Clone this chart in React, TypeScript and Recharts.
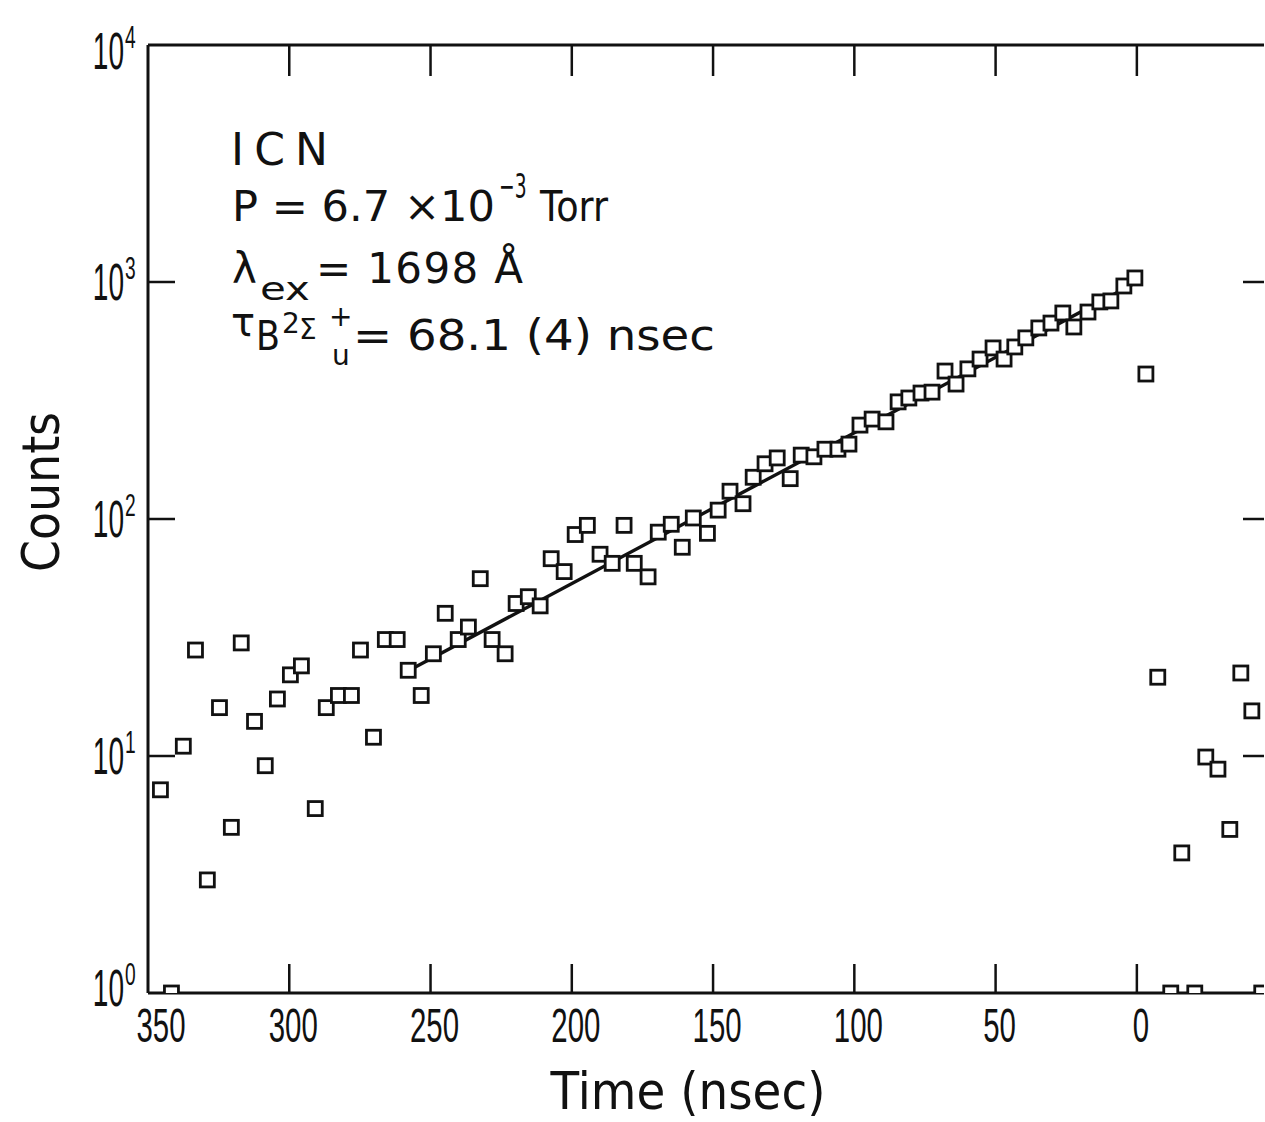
import React from "react";
import { ComposedChart, Scatter, XAxis, YAxis } from "recharts";

// decay curve (time in nsec, counts)
const times = [
  345.6, 341.7, 337.5, 333.2, 329, 324.7, 320.5, 317, 312.3, 308.5, 304.2, 299.6, 295.7,
  290.8, 286.9, 282.6, 278, 274.8, 270.2, 266, 261.8, 257.9, 253.3, 249, 244.8, 240.2,
  236.6, 232.4, 228.2, 223.6, 219.7, 215.4, 211.2, 207.3, 202.7, 198.8, 194.5, 190, 185.7,
  181.5, 177.9, 173, 169.4, 164.8, 160.9, 157, 152, 148.2, 144, 139.4, 135.8, 131.6, 127.3,
  122.7, 118.8, 114.3, 110.4, 105.8, 101.9, 98, 93.7, 88.8, 84.5, 80.7, 76.4, 72.5, 67.9,
  64, 59.8, 55.5, 50.9, 47, 43.2, 39.3, 34.7, 30.4, 26.2, 22.3, 17.3, 13.1, 9.2, 4.6, 0.7,
  -3.2, -7.4, -12, -15.9, -20.5, -24.4, -28.7, -32.9, -36.8, -40.7, -44.2,
];
const counts = [
  7.2, 1, 11, 28, 3, 16, 5, 30, 14, 9.1, 17.4, 22, 24,
  6, 16, 18, 18, 28, 12, 31, 31, 23, 18, 27, 40, 31,
  35, 56, 31, 27, 44, 47, 43, 68, 60, 86, 94, 71, 65,
  94, 65, 57, 88, 95, 76, 101, 87, 109, 131, 116, 150, 171, 181,
  148, 186, 183, 197, 197, 207, 249, 264, 257, 312, 324, 340, 343, 421,
  371, 430, 473, 527, 473, 532, 581, 640, 671, 740, 646, 747, 824, 832, 962, 1040,
  409, 21.5, 1, 3.9, 1, 9.9, 8.8, 4.9, 22.4, 15.5, 1,
];

// fitted exponential, tau = 68.1 nsec (straight on the log axis)
const fitTimes = [259, 0];
const fitCounts = [22.5, 1000];

const xTicks = [350, 300, 250, 200, 150, 100, 50, 0];
const yTicks = [1, 10, 100, 1000, 10000];
const yExponents = ["0", "1", "2", "3", "4"];

const points = times.map((t, i) => ({ t, c: counts[i] }));
const fit = fitTimes.map((t, i) => ({ t, c: fitCounts[i] }));

const INK = "#111";
const tickFont = "'Liberation Sans', Arial, sans-serif";
const textFont = "'DejaVu Sans', sans-serif";

function Square(props: any) {
  const { cx, cy } = props;
  if (cx == null || cy == null) return <g />;
  return (
    <rect x={cx - 7} y={cy - 7} width={14} height={14} fill="#fff" stroke={INK} strokeWidth={2.8} />
  );
}

function BottomTick(props: any) {
  const { x, y, payload } = props;
  const v = payload.value;
  const dx = v === 350 ? 13 : 4;
  return (
    <g>
      {v !== 350 && <line x1={x} y1={y} x2={x} y2={y - 29} stroke={INK} strokeWidth={2.5} />}
      <text
        transform={`translate(${x + dx},${y + 49}) scale(0.6,1)`}
        textAnchor="middle"
        fontSize={49}
        fontFamily={tickFont}
        fill={INK}
      >
        {v}
      </text>
    </g>
  );
}

function TopTick(props: any) {
  const { x, y, payload } = props;
  if (payload.value === 350) return <g />;
  return <line x1={x} y1={y} x2={x} y2={y + 31} stroke={INK} strokeWidth={2.5} />;
}

function LeftTick(props: any) {
  const { x, y, payload, index } = props;
  const v = payload.value;
  const shift = v === 1 ? -5 : v === 10000 ? 6 : 0;
  return (
    <g>
      {v !== 1 && v !== 10000 && <line x1={x} y1={y} x2={x + 27} y2={y} stroke={INK} strokeWidth={2.5} />}
      <text
        transform={`translate(${x - 24},${y + 18 + shift}) scale(0.54,1)`}
        textAnchor="end"
        fontSize={52}
        fontFamily={tickFont}
        fill={INK}
      >
        10
      </text>
      <text
        transform={`translate(${x - 23},${y - 3 + shift}) scale(0.6,1)`}
        textAnchor="start"
        fontSize={32}
        fontFamily={tickFont}
        fill={INK}
      >
        {yExponents[index]}
      </text>
    </g>
  );
}

function RightTick(props: any) {
  const { x, y, payload } = props;
  const v = payload.value;
  if (v === 1 || v === 10000) return <g />;
  return <line x1={x} y1={y} x2={x - 21} y2={y} stroke={INK} strokeWidth={2.5} />;
}

function TimeLabel(props: any) {
  const { viewBox } = props;
  return (
    <text
      x={viewBox.x + 540}
      y={viewBox.y + 116}
      textAnchor="middle"
      fontSize={51}
      fontFamily={textFont}
      fill={INK}
      textLength={275}
      lengthAdjust="spacingAndGlyphs"
    >
      Time (nsec)
    </text>
  );
}

function CountsLabel(props: any) {
  const { viewBox } = props;
  const cx = viewBox.x + 59;
  const cy = viewBox.y + viewBox.height / 2 - 27;
  return (
    <text
      x={cx}
      y={cy}
      transform={`rotate(-90,${cx},${cy})`}
      textAnchor="middle"
      fontSize={52}
      fontFamily={textFont}
      fill={INK}
      textLength={160}
      lengthAdjust="spacingAndGlyphs"
    >
      Counts
    </text>
  );
}

function Notes() {
  const t = { fontFamily: textFont, fill: INK };
  return (
    <svg
      width={1265}
      height={1122}
      style={{ position: "absolute", left: 0, top: 0, pointerEvents: "none" }}
    >
      <text x={231} y={165} fontSize={44} textLength={97} lengthAdjust="spacing" {...t}>ICN</text>

      <text x={232} y={221} fontSize={42} textLength={263} lengthAdjust="spacingAndGlyphs" {...t}>
        P = 6.7 ×10
      </text>
      <text transform="translate(499,198) scale(0.55,1)" fontSize={34} {...t}>−3</text>
      <text x={540} y={221} fontSize={42} textLength={68} lengthAdjust="spacingAndGlyphs" {...t}>Torr</text>

      <text x={232} y={283} fontSize={42} {...t}>λ</text>
      <text x={260} y={300} fontSize={32} textLength={50} lengthAdjust="spacingAndGlyphs" {...t}>ex</text>
      <text x={316} y={283} fontSize={42} textLength={207} lengthAdjust="spacing" {...t}>= 1698 Å</text>

      <text x={231} y={336} fontSize={40} {...t}>τ</text>
      <text x={256} y={350} fontSize={40} textLength={24} lengthAdjust="spacingAndGlyphs" {...t}>B</text>
      <text x={282} y={333} fontSize={28} {...t}>2</text>
      <text x={299} y={339} fontSize={28} {...t}>Σ</text>
      <text x={329} y={326} fontSize={28} {...t}>+</text>
      <text x={332} y={365} fontSize={28} {...t}>u</text>
      <text x={353} y={350} fontSize={42} textLength={362} lengthAdjust="spacingAndGlyphs" {...t}>
        = 68.1 (4) nsec
      </text>
    </svg>
  );
}

export default function App() {
  return (
    <div style={{ position: "absolute", left: 0, top: 0, width: 1265, height: 1122, background: "#fff" }}>
      <ComposedChart
        width={1265}
        height={1122}
        margin={{ top: 44, right: 0, bottom: 0, left: 0 }}
      >
        <XAxis
          dataKey="t"
          type="number"
          domain={[-45, 350]}
          reversed
          allowDataOverflow
          ticks={xTicks}
          interval={0}
          height={129}
          tickSize={0}
          tickMargin={0}
          tickLine={false}
          tick={<BottomTick />}
          axisLine={{ stroke: INK, strokeWidth: 3 }}
          label={<TimeLabel />}
        />
        <XAxis
          xAxisId="top"
          dataKey="t"
          orientation="top"
          type="number"
          domain={[-45, 350]}
          reversed
          allowDataOverflow
          ticks={xTicks}
          interval={0}
          height={1}
          tickSize={0}
          tickMargin={0}
          tickLine={false}
          tick={<TopTick />}
          axisLine={{ stroke: INK, strokeWidth: 3 }}
        />
        <YAxis
          dataKey="c"
          type="number"
          scale="log"
          domain={[1, 10000]}
          allowDataOverflow
          ticks={yTicks}
          interval={0}
          width={148}
          tickSize={0}
          tickMargin={0}
          tickLine={false}
          tick={<LeftTick />}
          axisLine={{ stroke: INK, strokeWidth: 3 }}
          label={<CountsLabel />}
        />
        <YAxis
          yAxisId="r"
          dataKey="c"
          orientation="right"
          type="number"
          scale="log"
          domain={[1, 10000]}
          allowDataOverflow
          ticks={yTicks}
          interval={0}
          width={1}
          tickSize={0}
          tickMargin={0}
          tickLine={false}
          tick={<RightTick />}
          axisLine={false}
        />
        <Scatter
          data={fit}
          xAxisId="top"
          yAxisId="r"
          line={{ stroke: INK, strokeWidth: 3.4 }}
          shape={() => <g />}
          isAnimationActive={false}
        />
        <Scatter data={points} shape={<Square />} isAnimationActive={false} />
      </ComposedChart>
      <Notes />
    </div>
  );
}
